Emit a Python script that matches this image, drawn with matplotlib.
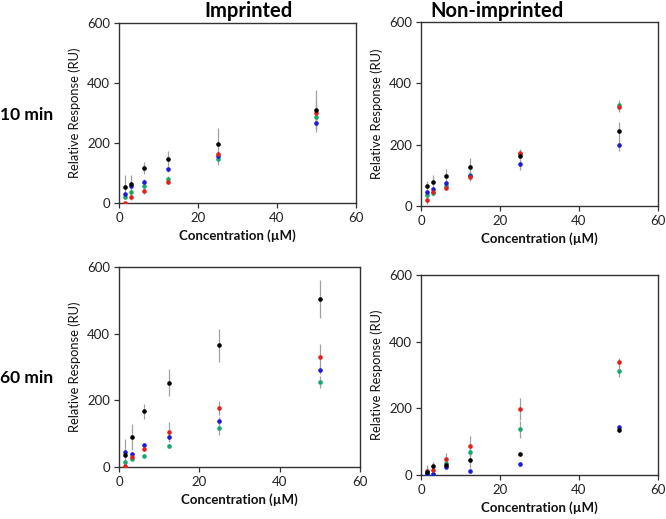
import matplotlib
matplotlib.use("Agg")
import matplotlib.pyplot as plt

plt.rcParams['font.family'] = ['Lato', 'DejaVu Sans']

conc = [1.5625, 3.125, 6.25, 12.5, 25, 50]
series_names = ["black", "red", "blue", "green"]
colors = {"black": "#000000", "red": "#e3211c", "blue": "#1c1cd6", "green": "#18a86b"}

# 10 min, Imprinted
imp10 = {
    "black": [55, 62, 117, 148, 198, 311],
    "red":   [0, 19, 39, 70, 163, 300],
    "blue":  [30, 57, 70, 113, 157, 267],
    "green": [20, 36, 56, 80, 148, 287],
}
imp10_err = {
    "black": [37, 32, 21, 25, 51, 65],
    "red":   [5, 8, 10, 8, 12, 41],
    "blue":  [6, 8, 10, 10, 12, 30],
    "green": [6, 8, 12, 10, 20, 40],
}
# 10 min, Non-imprinted
non10 = {
    "black": [65, 79, 98, 128, 164, 245],
    "red":   [19, 46, 59, 93, 173, 323],
    "blue":  [46, 56, 76, 98, 136, 199],
    "green": [37, 42, 66, 100, 168, 329],
}
non10_err = {
    "black": [16, 21, 24, 29, 12, 29],
    "red":   [12, 8, 6, 10, 14, 16],
    "blue":  [6, 6, 8, 8, 17, 20],
    "green": [8, 8, 8, 10, 12, 17],
}
# 60 min, Imprinted
imp60 = {
    "black": [35, 90, 167, 253, 365, 504],
    "red":   [4, 31, 55, 105, 177, 330],
    "blue":  [44, 39, 67, 91, 139, 291],
    "green": [15, 24, 34, 64, 117, 255],
}
imp60_err = {
    "black": [48, 38, 22, 40, 50, 57],
    "red":   [4, 6, 8, 31, 20, 39],
    "blue":  [6, 6, 6, 8, 10, 12],
    "green": [5, 4, 5, 6, 22, 18],
}
# 60 min, Non-imprinted
non60 = {
    "black": [10, 28, 30, 44, 63, 134],
    "red":   [12, 15, 47, 88, 198, 338],
    "blue":  [3, 3, 25, 11, 33, 143],
    "green": [2, 3, 37, 70, 137, 312],
}
non60_err = {
    "black": [18, 12, 8, 22, 4, 5],
    "red":   [18, 25, 20, 30, 33, 12],
    "blue":  [3, 3, 6, 4, 5, 6],
    "green": [3, 3, 10, 12, 25, 19],
}

fig = plt.figure(figsize=(6.66, 5.19), dpi=100)
W, H = 666, 519

def add_ax(l, r, t, b):
    return fig.add_axes([l / W, 1 - b / H, (r - l) / W, (b - t) / H])

panels = [
    (add_ax(119, 356, 23, 203), imp10, imp10_err),
    (add_ax(421, 658, 22, 206), non10, non10_err),
    (add_ax(119, 360, 267, 467), imp60, imp60_err),
    (add_ax(421, 658, 275, 475), non60, non60_err),
]

for ax, data, err in panels:
    for name in ["green", "blue", "red", "black"]:
        ax.errorbar(conc, data[name], yerr=err[name], fmt='o', color=colors[name],
                    ms=3.3, mew=0, ecolor='#a0a0a0', elinewidth=0.9, capsize=3,
                    capthick=0.9, zorder=3)
    ax.set_xlim(0, 60)
    ax.set_ylim(0, 600)
    ax.set_xticks([0, 20, 40, 60])
    ax.set_yticks([0, 200, 400, 600])
    ax.tick_params(direction='out', length=3.5, width=0.9, labelsize=9.5,
                   colors='#333333', labelcolor='#222222', pad=3)
    for s in ax.spines.values():
        s.set_color('#333333')
        s.set_linewidth(1.0)
    ax.set_ylabel("Relative Response (RU)", fontsize=9.3, labelpad=4, color='#111111')
    ax.set_xlabel("Concentration (\u00b5M)", fontsize=9.5, fontweight='bold',
                  labelpad=4, color='#111111')

fig.text(249 / W, 1 - 11 / H, "Imprinted", fontsize=14.5, fontweight='bold',
         ha='center', va='center')
fig.text(497 / W, 1 - 11 / H, "Non-imprinted", fontsize=14.5, fontweight='bold',
         ha='center', va='center')
fig.text(27 / W, 1 - 115 / H, "10 min", fontsize=12.5, fontweight='bold',
         ha='center', va='center')
fig.text(27 / W, 1 - 378 / H, "60 min", fontsize=12.5, fontweight='bold',
         ha='center', va='center')

fig.savefig("out.png", dpi=100)
